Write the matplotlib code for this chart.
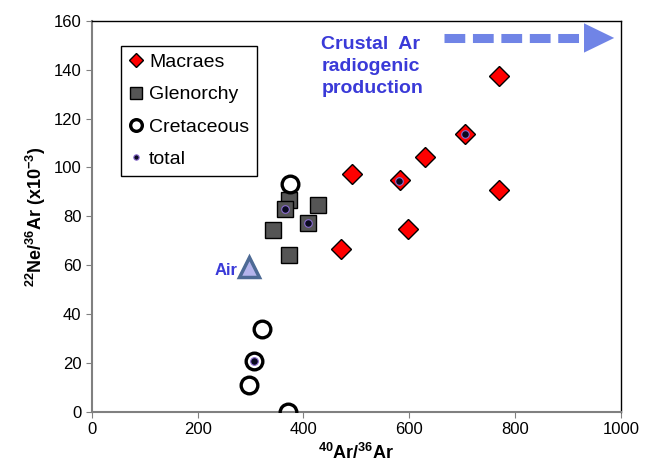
import matplotlib.pyplot as plt
from matplotlib.patches import Polygon

plt.rcParams['font.family'] = ['Liberation Sans', 'DejaVu Sans']
plt.rcParams['mathtext.fontset'] = 'custom'
plt.rcParams['mathtext.rm'] = 'Liberation Sans'
plt.rcParams['mathtext.bf'] = 'Liberation Sans:bold'
plt.rcParams['mathtext.default'] = 'bf'

# 40Ar/36Ar , 22Ne/36Ar (x10^-3)
macraes_x = [470, 492, 583, 598, 629, 705, 769, 769]
macraes_y = [66.7, 97.4, 94.8, 74.9, 104.3, 113.7, 137.5, 90.8]

glen_x = [372, 365, 428, 408, 343, 372]
glen_y = [86.7, 83.2, 84.6, 77.3, 74.3, 64.1]

cret_x = [374, 322, 307, 297, 370]
cret_y = [93.2, 34.0, 20.9, 11.2, 0.1]

total_x = [365, 408, 307, 580, 705]
total_y = [83.2, 77.3, 20.9, 94.6, 113.7]

air_x, air_y = [298], [59.2]

fig = plt.figure(figsize=(6.6, 4.74), dpi=100)
ax = fig.add_axes([0.139, 0.131, 0.802, 0.825])

ax.plot(macraes_x, macraes_y, 'D', ms=10.5, mfc='#ff0000', mec='black', mew=1.0,
        ls='none', label='Macraes', zorder=3)
ax.plot(glen_x, glen_y, 's', ms=12, mfc='#555555', mec='black', mew=1.0,
        ls='none', label='Glenorchy', zorder=3)
ax.plot(cret_x, cret_y, 'o', ms=12, mfc='none', mec='black', mew=2.4,
        ls='none', label='Cretaceous', zorder=4)
ax.plot(total_x, total_y, 'o', ms=5.5, mfc='#0a0a20', mec='#8a6ccf', mew=0.8,
        ls='none', label='total', zorder=5)
ax.plot(air_x, air_y, '^', ms=15, mfc='#b4b4ec', mec='#4d6a95', mew=2.5,
        ls='none', zorder=4)

ax.text(276, 58, 'Air', color='#3a3ad8', fontsize=12, fontweight='bold',
        ha='right', va='center')
ax.text(434, 154, 'Crustal  Ar\nradiogenic\nproduction', color='#3a3ad8',
        fontsize=14, fontweight='bold', ha='left', va='top', linespacing=1.4)

# dashed arrow
arrow_col = '#7084e6'
ax.plot([665, 934], [153, 153], color=arrow_col, lw=6.5, dashes=(2.3, 0.85),
        dash_capstyle='butt', zorder=2)
ax.add_patch(Polygon([[930, 159], [930, 147], [987, 153]], closed=True,
                     facecolor=arrow_col, edgecolor='none', zorder=2))

ax.set_xlim(0, 1000)
ax.set_ylim(0, 160)
ax.set_xticks(range(0, 1001, 200))
ax.set_yticks(range(0, 161, 20))
ax.tick_params(labelsize=12, color='#808080', length=4, direction='out')
for s in ['left', 'bottom']:
    ax.spines[s].set_color('#808080')
    ax.spines[s].set_linewidth(1.5)
for s in ['top', 'right']:
    ax.spines[s].set_color('black')
    ax.spines[s].set_linewidth(1.0)

ax.set_xlabel(r'$^{40}$Ar/$^{36}$Ar', fontsize=13, fontweight='bold', labelpad=4)
ax.set_ylabel(r'$^{22}$Ne/$^{36}$Ar (x10$^{-3}$)', fontsize=13, fontweight='bold')

leg = ax.legend(loc='upper left', bbox_to_anchor=(0.055, 0.936), borderaxespad=0,
                fontsize=14, handlelength=0.8, handletextpad=0.25, labelspacing=0.75,
                markerscale=0.7, fancybox=False, framealpha=1, edgecolor='black',
                borderpad=0.4)
leg.get_frame().set_linewidth(1.0)

fig.savefig('out.png', dpi=100)
